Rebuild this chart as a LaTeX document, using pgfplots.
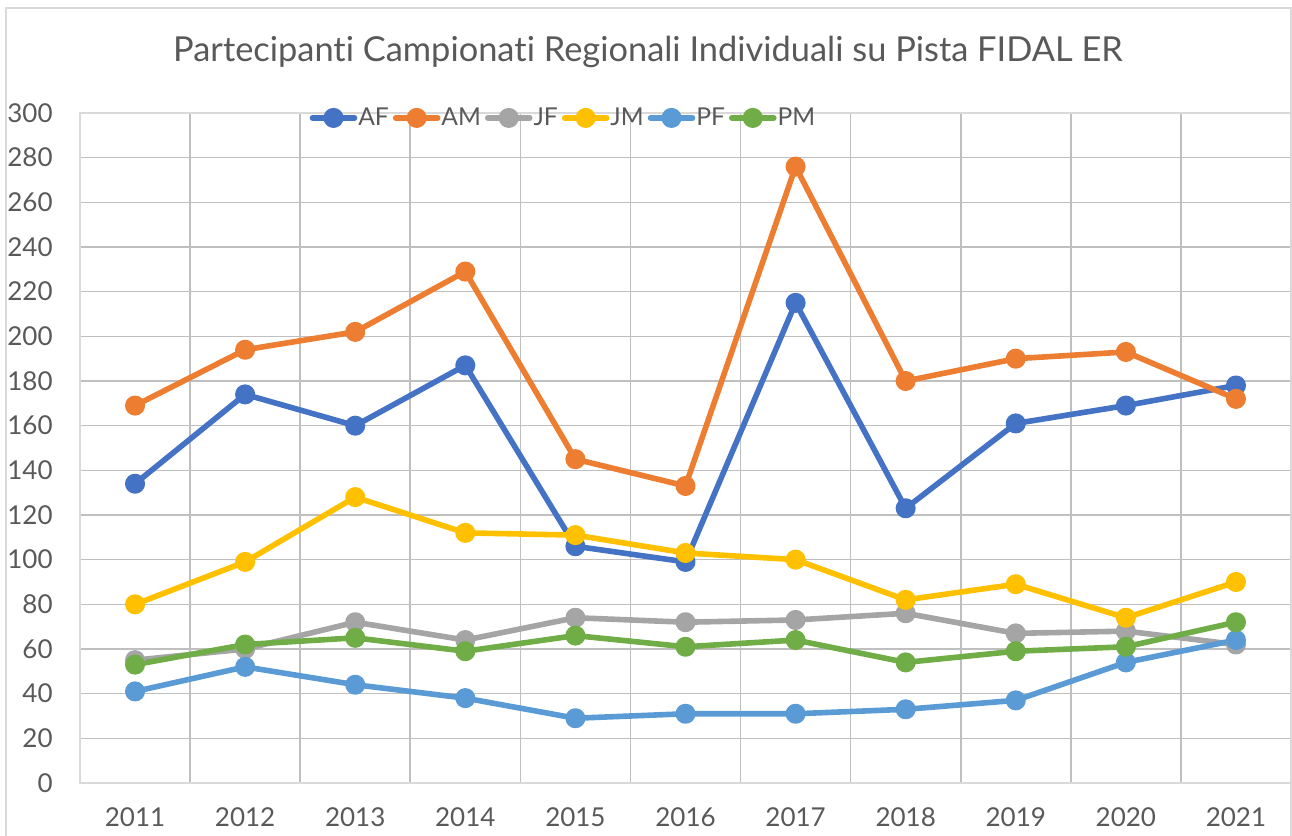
\documentclass[border=0pt]{standalone}
\usepackage{fontspec}
\setmainfont[Ligatures=NoCommon]{Lato}
\usepackage{pgfplots}
\pgfplotsset{compat=1.18}
\definecolor{txt}{HTML}{595959}
\definecolor{grid}{HTML}{D9D9D9}
\definecolor{cAF}{HTML}{4472C4}
\definecolor{cAM}{HTML}{ED7D31}
\definecolor{cJF}{HTML}{A5A5A5}
\definecolor{cJM}{HTML}{FFC000}
\definecolor{cPF}{HTML}{5B9BD5}
\definecolor{cPM}{HTML}{70AD47}
\begin{document}
\begin{tikzpicture}
\useasboundingbox (0,0) rectangle (646pt,418pt);
\draw[grid, line width=0.8pt] (3pt,-2pt) -- (3pt,414pt) -- (645.6pt,414pt) -- (645.6pt,-2pt);
\node[txt, font=\fontsize{17.2}{20}\selectfont, anchor=base] at (324pt,387pt) {Partecipanti Campionati Regionali Individuali su Pista FIDAL ER};
\begin{axis}[
  at={(40pt,26.5pt)}, anchor=south west,
  scale only axis, width=605.5pt, height=335pt,
  xmin=-0.5, xmax=10.5, ymin=0, ymax=300,
  xtick={-0.5,0.5,1.5,2.5,3.5,4.5,5.5,6.5,7.5,8.5,9.5,10.5},
  xticklabels={},
  extra x ticks={0,1,2,3,4,5,6,7,8,9,10},
  extra x tick labels={2011,2012,2013,2014,2015,2016,2017,2018,2019,2020,2021},
  extra x tick style={grid=none, major tick length=0pt},
  ytick={0,20,...,300},
  xmajorgrids, ymajorgrids,
  grid style={grid, line width=0.8pt},
  major grid style={grid, line width=0.8pt},
  axis line style={grid, line width=0.8pt},
  major tick length=0pt, minor tick length=0pt,
  tick style={draw=none},
  /pgf/number format/assume math mode=true,
  xticklabel style={txt, font=\fontsize{13}{16}\selectfont, anchor=base, yshift=-22pt},
  yticklabel style={txt, font=\fontsize{13}{16}\selectfont, anchor=east, inner xsep=0pt, xshift=-13.5pt},
  legend columns=6,
  legend style={draw=none, fill=none, at={(axis cs:3.887,297.8)}, anchor=center,
    font=\fontsize{12.3}{15}\selectfont, text=txt, inner sep=0pt,
    nodes={inner xsep=0.5pt, inner ysep=1pt},
    /tikz/every odd column/.append style={column sep=0pt},
    /tikz/every even column/.append style={column sep=1.5pt}},
  legend image code/.code={\draw[mark repeat=2,mark phase=2,#1] plot coordinates {(0pt,0pt) (10.5pt,0pt) (21pt,0pt)};},
  every axis plot/.append style={line width=2.8pt, mark=*, mark size=3.6pt, line join=round, line cap=round},
]
\addplot[cAF, mark options={fill=cAF, draw=cAF}] coordinates {(0,134)(1,174)(2,160)(3,187)(4,106)(5,99)(6,215)(7,123)(8,161)(9,169)(10,178)};
\addlegendentry{AF}
\addplot[cAM, mark options={fill=cAM, draw=cAM}] coordinates {(0,169)(1,194)(2,202)(3,229)(4,145)(5,133)(6,276)(7,180)(8,190)(9,193)(10,172)};
\addlegendentry{AM}
\addplot[cJF, mark options={fill=cJF, draw=cJF}] coordinates {(0,55)(1,60)(2,72)(3,64)(4,74)(5,72)(6,73)(7,76)(8,67)(9,68)(10,62)};
\addlegendentry{JF}
\addplot[cJM, mark options={fill=cJM, draw=cJM}] coordinates {(0,80)(1,99)(2,128)(3,112)(4,111)(5,103)(6,100)(7,82)(8,89)(9,74)(10,90)};
\addlegendentry{JM}
\addplot[cPF, mark options={fill=cPF, draw=cPF}] coordinates {(0,41)(1,52)(2,44)(3,38)(4,29)(5,31)(6,31)(7,33)(8,37)(9,54)(10,64)};
\addlegendentry{PF}
\addplot[cPM, mark options={fill=cPM, draw=cPM}] coordinates {(0,53)(1,62)(2,65)(3,59)(4,66)(5,61)(6,64)(7,54)(8,59)(9,61)(10,72)};
\addlegendentry{PM}
\end{axis}
\end{tikzpicture}
\end{document}
